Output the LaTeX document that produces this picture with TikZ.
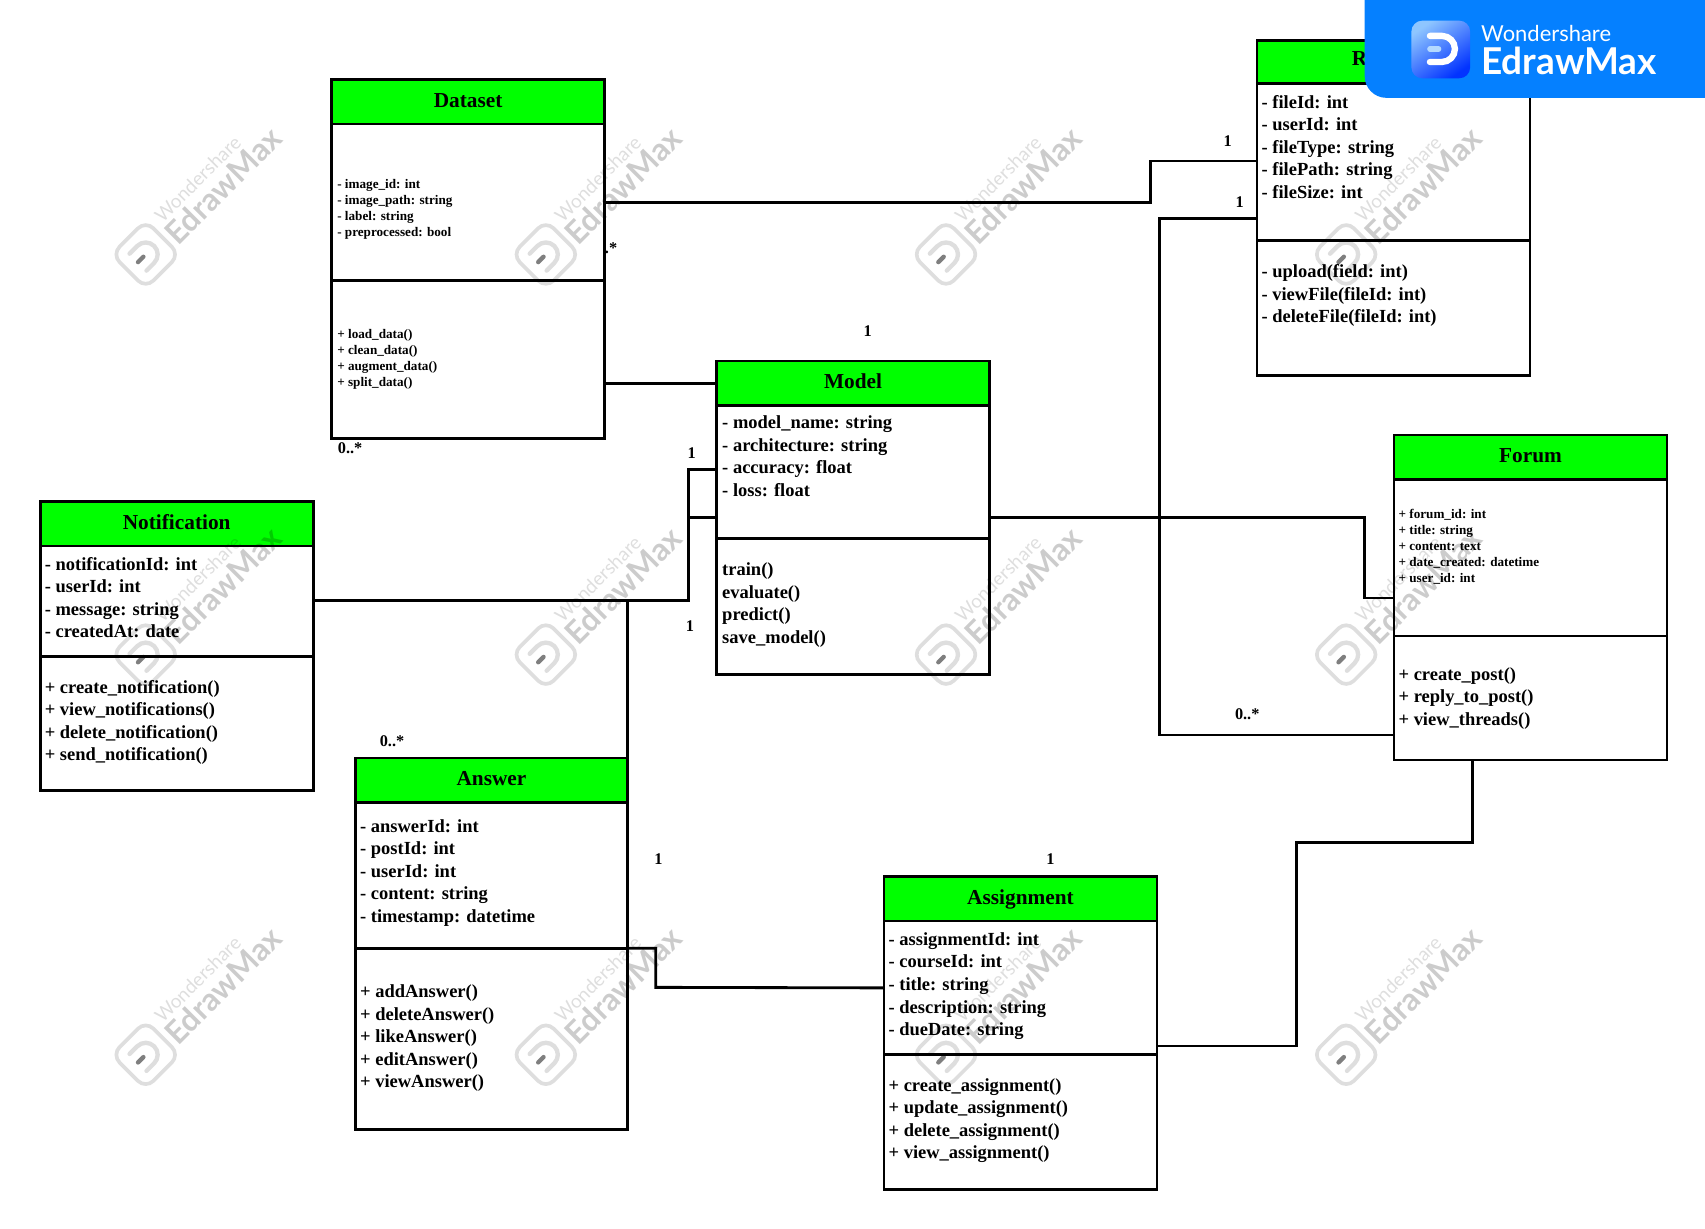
\documentclass[tikz,border=0pt]{standalone}
\usepackage{fontspec}
\setmainfont{Liberation Serif}
\newfontfamily\wmfont{Lato}
\usetikzlibrary{calc}
\definecolor{umlgreen}{HTML}{00FF00}
\definecolor{bannerblue}{HTML}{0580FF}
\newcommand{\wmark}[1]{%
  \begin{scope}[shift={(#1)},rotate=45,black,opacity=.13]
    \draw[line width=3.4pt,rounded corners=10pt] (-22,-22) rectangle (22,22);
    \draw[line width=4pt,line cap=round] (-10,-11) -- (0,-11) arc[start angle=-90,end angle=90,radius=11] -- (-10,11);
    \draw[line width=4pt,line cap=round,opacity=.5] (-10,0) -- (-3,0);
    \node[wmsmall] (wm#1a) at (31,-9) {Wondershare};
    \node[wmbig] (wm#1b) at (26,16) {EdrawMax};
  \end{scope}}
\tikzset{
  x=1pt,y=-1pt,
  wmsmall/.style={anchor=base west,inner sep=0pt,transform shape,font=\wmfont\fontsize{17.5}{17}\selectfont},
  wmbig/.style={anchor=base west,inner sep=0pt,transform shape,opacity=.2,font=\wmfont\bfseries\fontsize{29}{29}\selectfont},
  part/.style={draw=black,line width=2.5pt,anchor=north west,inner sep=0pt,outer sep=0pt,minimum width=251pt},
  titlepart/.style={part,fill=umlgreen,text height=14pt,text depth=4pt,font=\bfseries\fontsize{19.6}{19}\selectfont},
  bigtext/.style={anchor=north west,inner sep=0pt,align=left,yshift=9.2pt,font=\bfseries\fontsize{17}{20.7}\selectfont},
  smalltext/.style={anchor=north west,inner sep=0pt,align=left,yshift=6pt,font=\bfseries\fontsize{12.1}{14.7}\selectfont},
  link/.style={line width=2.6pt,line join=miter},
  mult/.style={inner sep=0pt,font=\bfseries\fontsize{15}{15}\selectfont},
}
\begin{document}
\begin{tikzpicture}[x=1pt,y=-1pt]
\useasboundingbox (0,0) rectangle (1568,1130.2);
% Dataset
\node[titlepart,minimum height=41pt] (dstitle) at (305,73) {Dataset};
\node[part,minimum height=144pt] (dsattr) at (305,114) {};
\node[part,minimum height=145pt] (dsops) at (305,258) {};
\node[smalltext] (dsattrt) at (310,169) {\strut - image\_id: int\\- image\_path: string\\- label: string\\- preprocessed: bool};
\node[smalltext] (dsopst) at (310,307) {\strut + load\_data()\\+ clean\_data()\\+ augment\_data()\\+ split\_data()};
% Model
\node[titlepart,minimum height=41pt] (mtitle) at (659,332) {Model};
\node[part,minimum height=122pt] (mattr) at (659,373) {};
\node[part,minimum height=125pt] (mops) at (659,495) {};
\node[bigtext] (mattrt) at (664,389) {\strut - model\_name: string\\- architecture: string\\- accuracy: float\\- loss: float};
\node[bigtext] (mopst) at (664,524) {\strut train()\\evaluate()\\predict()\\save\_model()};
% File box
\node[titlepart,minimum height=40pt] (rtitle) at (1156,37) {};
\node[anchor=west,inner sep=0pt,font=\bfseries\fontsize{19.6}{19}\selectfont] (rlabel) at (1243,54) {R};
\node[part,minimum height=144pt] (rattr) at (1156,77) {};
\node[part,minimum height=124pt] (rops) at (1156,221) {};
\node[bigtext] (rattrt) at (1160,94) {\strut - fileId: int\\- userId: int\\- fileType: string\\- filePath: string\\- fileSize: int};
\node[bigtext] (ropst) at (1160,250) {\strut - upload(field: int)\\- viewFile(fileId: int)\\- deleteFile(fileId: int)};
% Forum
\node[titlepart,minimum height=41pt] (ftitle) at (1282,400) {Forum};
\node[part,minimum height=144pt] (fattr) at (1282,441) {};
\node[part,minimum height=114pt] (fops) at (1282,585) {};
\node[smalltext] (fattrt) at (1286,472) {\strut + forum\_id: int\\+ title: string\\+ content: text\\+ date\_created: datetime\\+ user\_id: int};
\node[bigtext] (fopst) at (1286,620) {\strut + create\_post()\\+ reply\_to\_post()\\+ view\_threads()};
% Notification
\node[titlepart,minimum height=41pt] (ntitle) at (37,461) {Notification};
\node[part,minimum height=102pt] (nattr) at (37,502) {};
\node[part,minimum height=123pt] (nops) at (37,604) {};
\node[bigtext] (nattrt) at (41,519) {\strut - notificationId: int\\- userId: int\\- message: string\\- createdAt: date};
\node[bigtext] (nopst) at (41,632) {\strut + create\_notification()\\+ view\_notifications()\\+ delete\_notification()\\+ send\_notification()};
% Answer
\node[titlepart,minimum height=41pt,minimum width=250pt] (atitle) at (327,697) {Answer};
\node[part,minimum height=134pt,minimum width=250pt] (aattr) at (327,738) {};
\node[part,minimum height=167pt,minimum width=250pt] (aops) at (327,872) {};
\node[bigtext] (aattrt) at (331,760) {\strut - answerId: int\\- postId: int\\- userId: int\\- content: string\\- timestamp: datetime};
\node[bigtext] (aopst) at (331,912) {\strut + addAnswer()\\+ deleteAnswer()\\+ likeAnswer()\\+ editAnswer()\\+ viewAnswer()};
% Assignment
\node[titlepart,minimum height=41pt] (gtitle) at (813,806) {Assignment};
\node[part,minimum height=123pt] (gattr) at (813,847) {};
\node[part,minimum height=124pt] (gops) at (813,970) {};
\node[bigtext] (gattrt) at (817,864) {\strut - assignmentId: int\\- courseId: int\\- title: string\\- description: string\\- dueDate: string};
\node[bigtext] (gopst) at (817,998) {\strut + create\_assignment()\\+ update\_assignment()\\+ delete\_assignment()\\+ view\_assignment()};
% connectors
\draw[link] (dsattr.east) -- (1058,186) -- (1058,148) -- (rattr.west |- 0,148);
\draw[link] (dsops.east |- mtitle.west) -- (mtitle.west);
\draw[link] (nattr.east |- 0,552) -- (633,552) -- (633,476) -- (mattr.west |- 0,476);
\draw[link] (633,476) -- (633,432) -- (mattr.west |- 0,432);
\draw[link] (atitle.north east) -- (577,552);
\draw[link] (mattr.east |- 0,476) -- (1255,476) -- (1255,550) -- (fattr.west |- 0,550);
\draw[link] (rattr.west |- 0,201) -- (1066,201) -- (1066,676) -- (fops.west |- 0,676);
\draw[link] (fops.south west -| 1354,0) -- (1354,775) -- (1192,775) -- (1192,962) -- (gops.north east |- 0,962);
\draw[link] (aops.north east) -- (603,872) -- (603,908) -- (gattr.west);
% multiplicities
\node[mult] (m1) at (1129,129.5) {1};
\node[mult] (m2) at (1140,185.5) {1};
\node[mult] (m3) at (562,228.5) {.*};
\node[mult] (m4) at (322,412.5) {0..*};
\node[mult] (m5) at (798,304.5) {1};
\node[mult] (m6) at (636,416.5) {1};
\node[mult] (m7) at (634.5,575.5) {1};
\node[mult] (m8) at (360.5,681.5) {0..*};
\node[mult] (m9) at (605.5,790.5) {1};
\node[mult] (m10) at (966,790.5) {1};
\node[mult] (m11) at (1147,656.5) {0..*};
% watermarks
\wmark{134,234}\wmark{502,234}\wmark{870,234}\wmark{1238,234}
\wmark{134,602}\wmark{502,602}\wmark{870,602}\wmark{1238,602}
\wmark{134,970}\wmark{502,970}\wmark{870,970}\wmark{1238,970}
% banner
\fill[bannerblue] (1255,0) -- (1568,0) -- (1568,90) -- (1275,90) arc[start angle=90,end angle=180,radius=20] -- cycle;
\shade[top color=bannerblue!45!white,bottom color=blue!60!bannerblue,shading angle=35,rounded corners=10pt] (1298,19) rectangle (1352,72);
\draw[white,line width=5.8pt,line cap=round] (1315,33) -- (1326,33) arc[start angle=-90,end angle=90,radius=12] -- (1315,57);
\draw[white!70!bannerblue,line width=5pt,line cap=round] (1315,45) -- (1323,45);
\node[anchor=west,inner sep=0pt,text=white,font=\wmfont\fontsize{20.2}{20}\selectfont] (bw) at (1362,31) {Wondershare};
\node[anchor=west,inner sep=0pt,text=white,font=\wmfont\bfseries\fontsize{34}{34}\selectfont] (be) at (1362,56) {EdrawMax};
\end{tikzpicture}
\end{document}
